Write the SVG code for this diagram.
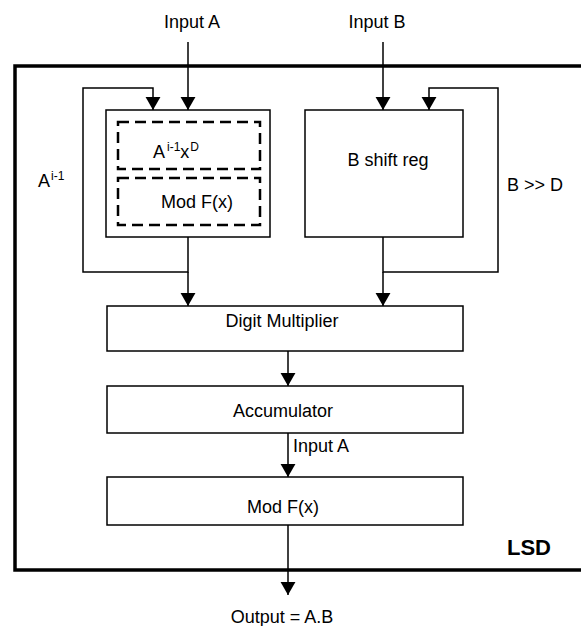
<svg xmlns="http://www.w3.org/2000/svg" width="581" height="626" viewBox="0 0 581 626">
<style>
text{font-family:"Liberation Sans",Arial,sans-serif;font-size:18px;fill:#000}
.box{fill:#fff;stroke:#000;stroke-width:1.5}
.dash{fill:none;stroke:#000;stroke-width:2.5;stroke-dasharray:11 6}
.wire{fill:none;stroke:#000;stroke-width:1.5}
.sup{font-size:12px}
</style>
<defs>
<marker id="ah" markerUnits="userSpaceOnUse" viewBox="0 0 14 16" refX="14" refY="8" markerWidth="13" markerHeight="16" orient="auto">
<path d="M0,0 L14,8 L0,16 z" fill="#000"/>
</marker>
</defs>
<rect width="581" height="626" fill="#fff"/>
<g id="lsd">
<path d="M581,66 L15,66 L15,570 L581,570" fill="none" stroke="#000" stroke-width="3.5"/>
<text x="507" y="555" style="font-weight:bold;font-size:22px">LSD</text>
</g>
<g id="a-reg">
<rect class="box" x="106" y="110" width="164" height="127"/>
<rect class="dash" x="118" y="122" width="142" height="47"/>
<rect class="dash" x="118" y="178" width="142" height="47"/>
<text x="153" y="158">A<tspan class="sup" dx="2" dy="-7">i-1</tspan><tspan dy="7">x</tspan><tspan class="sup" dx="1" dy="-7">D</tspan></text>
<text x="197" y="208" text-anchor="middle">Mod F(x)</text>
</g>
<g id="b-reg">
<rect class="box" x="305" y="110" width="158" height="127"/>
<text x="388" y="166" text-anchor="middle">B shift reg</text>
</g>
<g id="digit-mult">
<rect class="box" x="107" y="306" width="356" height="45"/>
<text x="282" y="327" text-anchor="middle">Digit Multiplier</text>
</g>
<g id="accumulator">
<rect class="box" x="107" y="386" width="356" height="47"/>
<text x="283" y="417" text-anchor="middle">Accumulator</text>
</g>
<g id="mod-f">
<rect class="box" x="107" y="477" width="356" height="48"/>
<text x="283" y="513" text-anchor="middle">Mod F(x)</text>
</g>
<g id="connectors">
<line class="wire" x1="188" y1="42" x2="188" y2="110" marker-end="url(#ah)"/>
<line class="wire" x1="383" y1="42" x2="383" y2="110" marker-end="url(#ah)"/>
<path class="wire" d="M188,237 L188,272 L83,272 L83,88 L153,88 L153,110" marker-end="url(#ah)"/>
<line class="wire" x1="188" y1="272" x2="188" y2="306" marker-end="url(#ah)"/>
<path class="wire" d="M383,237 L383,272 L498,272 L498,88 L429,88 L429,110" marker-end="url(#ah)"/>
<line class="wire" x1="383" y1="272" x2="383" y2="306" marker-end="url(#ah)"/>
<line class="wire" x1="288" y1="351" x2="288" y2="386" marker-end="url(#ah)"/>
<line class="wire" x1="288" y1="433" x2="288" y2="477" marker-end="url(#ah)"/>
<line class="wire" x1="288" y1="525" x2="288" y2="595" marker-end="url(#ah)"/>
</g>
<g id="labels">
<text x="192" y="28" text-anchor="middle">Input A</text>
<text x="377" y="28" text-anchor="middle">Input B</text>
<text x="38" y="187">A<tspan class="sup" dx="1" dy="-7">i-1</tspan></text>
<text x="507" y="191">B &gt;&gt; D</text>
<text x="293" y="452">Input A</text>
<text x="282" y="623" text-anchor="middle">Output = A.B</text>
</g>
</svg>
